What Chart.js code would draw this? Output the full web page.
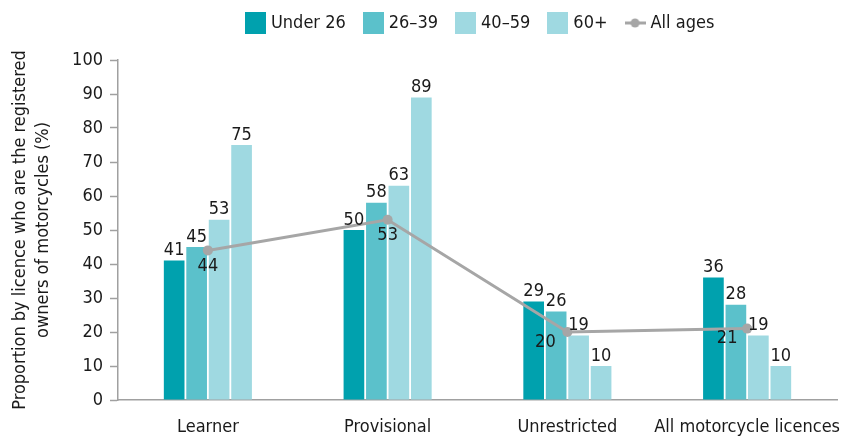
<!DOCTYPE html>
<html>
<head>
<meta charset="utf-8">
<script src="https://cdn.jsdelivr.net/npm/chart.js@4.4.1/dist/chart.umd.min.js"></script>
<style>
  html, body { margin: 0; padding: 0; background: #fff; }
  #wrap { width: 842px; height: 436px; }
</style>
</head>
<body>
<div id="wrap"><canvas id="chart"></canvas></div>
<script>
const categories = ['Learner', 'Provisional', 'Unrestricted', 'All motorcycle licences'];
const under26 = [41, 50, 29, 36];
const age26to39 = [45, 58, 26, 28];
const age40to59 = [53, 63, 19, 19];
const age60plus = [75, 89, 10, 10];
const allAges = [44, 53, 20, 21];
const yTicks = [0, 10, 20, 30, 40, 50, 60, 70, 80, 90, 100];

const FONT = "'DejaVu Sans Condensed', 'DejaVu Sans', sans-serif";
const TEXT = '#1a1a1a';
const AXIS = '#a0a0a0';
const C1 = '#00a1ae', C2 = '#5bc1cb', C3 = '#9fd9e1', C4 = '#9fd9e1', CL = '#a6a6a6';

// legend icons
function boxIcon(color) {
    const c = document.createElement('canvas');
    c.width = 21; c.height = 22;
    const g = c.getContext('2d');
    g.fillStyle = color;
    g.fillRect(0, 0, 21, 22);
    return c;
}
function lineIcon(color) {
    const c = document.createElement('canvas');
    c.width = 21; c.height = 10;
    const g = c.getContext('2d');
    g.strokeStyle = color; g.lineWidth = 3;
    g.beginPath(); g.moveTo(0, 5); g.lineTo(21, 5); g.stroke();
    g.fillStyle = color;
    g.beginPath(); g.arc(10.5, 5, 4.5, 0, Math.PI * 2); g.fill();
    return c;
}
const legendIcons = [boxIcon(C1), boxIcon(C2), boxIcon(C3), boxIcon(C4), lineIcon(CL)];

// value labels drawn on top of bars / under line points
const valueLabels = {
    id: 'valueLabels',
    afterDatasetsDraw(chart) {
        const ctx = chart.ctx;
        ctx.save();
        ctx.font = '18px ' + FONT;
        ctx.fillStyle = TEXT;
        ctx.textAlign = 'center';
        chart.data.datasets.forEach((ds, i) => {
            const meta = chart.getDatasetMeta(i);
            meta.data.forEach((el, j) => {
                if (ds.type === 'line') {
                    const dx = [0, 0, -22, -20][j];
                    const dy = [7, 7, 1, 1][j];
                    ctx.textBaseline = 'top';
                    ctx.fillText(ds.data[j], el.x + dx, el.y + dy);
                } else {
                    ctx.textBaseline = 'bottom';
                    ctx.fillText(ds.data[j], el.x, el.y - 1);
                }
            });
        });
        ctx.restore();
    }
};

// move the legend to sit over the plot like the original
const legendShift = {
    id: 'legendShift',
    afterLayout(chart) {
        const lg = chart.legend;
        const x = (lg.left + lg.options.labels.padding + lg.right - lg.lineWidths[0]) / 2;
        const d = 249 - x;
        lg.left += d;
        lg.right += d;
        lg.top -= 18;
        lg.bottom -= 18;
    }
};

Chart.defaults.font.family = FONT;
Chart.defaults.color = TEXT;

new Chart(document.getElementById('chart'), {
    data: {
        labels: categories,
        datasets: [
            { type: 'bar', label: 'Under 26', data: under26, backgroundColor: C1, order: 1 },
            { type: 'bar', label: '26–39', data: age26to39, backgroundColor: C2, order: 1 },
            { type: 'bar', label: '40–59', data: age40to59, backgroundColor: C3, order: 1 },
            { type: 'bar', label: '60+', data: age60plus, backgroundColor: C4, order: 1 },
            {
                type: 'line', label: 'All ages', data: allAges, order: 0,
                borderColor: CL, backgroundColor: CL, borderWidth: 3,
                pointRadius: 5, pointBackgroundColor: CL, pointBorderWidth: 0,
                tension: 0
            }
        ]
    },
    options: {
        responsive: true,
        maintainAspectRatio: false,
        animation: false,
        layout: { padding: { top: 11, right: 0, left: 0, bottom: 0 } },
        datasets: {
            bar: { categoryPercentage: 0.5, barPercentage: 0.92 }
        },
        plugins: {
            legend: {
                position: 'top',
                labels: {
                    usePointStyle: true,
                    pointStyleWidth: 13,
                    padding: 21,
                    font: { size: 18 },
                    color: TEXT,
                    sort: (a, b) => a.datasetIndex - b.datasetIndex,
                    generateLabels(chart) {
                        const items = Chart.defaults.plugins.legend.labels.generateLabels(chart);
                        items.forEach(it => { it.pointStyle = legendIcons[it.datasetIndex]; });
                        return items;
                    }
                }
            },
            tooltip: { enabled: false }
        },
        scales: {
            x: {
                afterFit(scale) { scale.height = 36; scale.paddingRight = 0; scale.paddingLeft = 0; },
                grid: { display: false, tickLength: 17 },
                border: { color: AXIS, width: 1.5 },
                ticks: { font: { size: 18, lineHeight: 1.1 }, color: TEXT, padding: 0, maxRotation: 0, autoSkip: false }
            },
            y: {
                min: 0,
                max: 100,
                afterBuildTicks(scale) { scale.ticks = yTicks.map(v => ({ value: v })); },
                afterFit(scale) { scale.width = 118; },
                grid: { drawOnChartArea: false, color: AXIS, tickLength: 8, tickWidth: 1.5 },
                border: { color: AXIS, width: 1.5 },
                ticks: { font: { size: 18 }, color: TEXT, padding: 7 },
                title: {
                    display: true,
                    text: ['Proportion by licence who are the registered', 'owners of motorcycles (%)'],
                    font: { size: 18, lineHeight: 1.28 },
                    color: TEXT,
                    padding: { top: 9, bottom: 6 }
                }
            }
        }
    },
    plugins: [valueLabels, legendShift]
});
</script>
</body>
</html>
